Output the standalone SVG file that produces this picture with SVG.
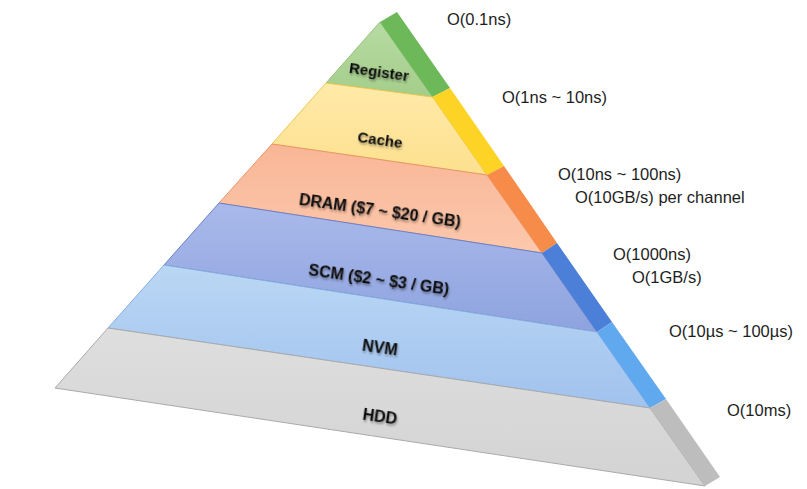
<svg xmlns="http://www.w3.org/2000/svg" width="807" height="489" viewBox="0 0 807 489">
  <defs>
    <linearGradient id="gReg" x1="0" y1="0" x2="0" y2="1"><stop offset="0" stop-color="#b7dba3"/><stop offset="1" stop-color="#a4cd8a"/></linearGradient>
    <linearGradient id="gCache" x1="0" y1="0" x2="0" y2="1"><stop offset="0" stop-color="#ffeaa8"/><stop offset="1" stop-color="#fde08f"/></linearGradient>
    <linearGradient id="gDram" x1="0" y1="0" x2="0" y2="1"><stop offset="0" stop-color="#f9b696"/><stop offset="1" stop-color="#fcc8ad"/></linearGradient>
    <linearGradient id="gScm" x1="0" y1="0" x2="0" y2="1"><stop offset="0" stop-color="#a9b9ea"/><stop offset="1" stop-color="#8ea3df"/></linearGradient>
    <linearGradient id="gNvm" x1="0" y1="0" x2="0" y2="1"><stop offset="0" stop-color="#bad7f4"/><stop offset="1" stop-color="#a1c2ee"/></linearGradient>
    <linearGradient id="gHdd" x1="0" y1="0" x2="0" y2="1"><stop offset="0" stop-color="#dedede"/><stop offset="1" stop-color="#d3d3d3"/></linearGradient>
    <filter id="shadow" x="-20%" y="-50%" width="140%" height="200%">
      <feDropShadow dx="1" dy="2" stdDeviation="1" flood-color="#000" flood-opacity="0.35"/>
    </filter>
  </defs>
  <style>
    .front { stroke-width: 1; stroke-linejoin: round; }
    .side { stroke: none; }
    .label { font-family: "Liberation Sans", Arial, sans-serif; font-weight: bold; fill: #111; text-anchor: middle; filter: url(#shadow); }
    .note { font-family: "Liberation Sans", Arial, sans-serif; font-size: 16.5px; fill: #1e1e1e; }
  </style>
  <rect width="807" height="489" fill="#ffffff"/>

  <g id="register">
    <polygon class="front" points="380,22 432.5,97 326,83" fill="url(#gReg)" stroke="#93c274"/>
    <polygon class="side" points="380,22 397,12 450,88 432.5,97" fill="#6db95a"/>
    <text class="label" x="379" y="72" dy="0.35em" font-size="15" transform="rotate(8 379 72)">Register</text>
  </g>
  <g id="cache">
    <polygon class="front" points="326,83 432.5,97 487,175 272,144" fill="url(#gCache)" stroke="#ecc651"/>
    <polygon class="side" points="432.5,97 450,88 504,166 487,175" fill="#fdd325"/>
    <text class="label" x="380" y="140" dy="0.35em" font-size="15" transform="rotate(8 380 140)">Cache</text>
  </g>
  <g id="dram">
    <polygon class="front" points="272,144 487,175 542,253 219,203" fill="url(#gDram)" stroke="#e8976a"/>
    <polygon class="side" points="487,175 504,166 557,243 542,253" fill="#f68b4a"/>
    <text class="label" x="380" y="210" dy="0.35em" font-size="16" transform="rotate(8 380 210)">DRAM ($7 ~ $20 / GB)</text>
  </g>
  <g id="scm">
    <polygon class="front" points="219,203 542,253 597,332 164,265" fill="url(#gScm)" stroke="#6a80c8"/>
    <polygon class="side" points="542,253 557,243 612,322 597,332" fill="#4c7fd7"/>
    <text class="label" x="379" y="279" dy="0.35em" font-size="16" transform="rotate(8 379 279)">SCM ($2 ~ $3 / GB)</text>
  </g>
  <g id="nvm">
    <polygon class="front" points="164,265 597,332 650,408 108,328" fill="url(#gNvm)" stroke="#86addf"/>
    <polygon class="side" points="597,332 612,322 666,399 650,408" fill="#60a9ee"/>
    <text class="label" x="380" y="347" dy="0.35em" font-size="16" transform="rotate(8 380 347)">NVM</text>
  </g>
  <g id="hdd">
    <polygon class="front" points="108,328 650,408 705,486 55,388" fill="url(#gHdd)" stroke="#a9a9a9"/>
    <polygon class="side" points="650,408 666,399 720,477 705,486" fill="#bdbdbd"/>
    <text class="label" x="380" y="416" dy="0.35em" font-size="16" transform="rotate(8 380 416)">HDD</text>
  </g>

  <g id="connectors"></g>

  <g id="latencies">
    <text class="note" x="447" y="25">O(0.1ns)</text>
    <text class="note" x="502" y="103">O(1ns ~ 10ns)</text>
    <text class="note" x="558" y="180">O(10ns ~ 100ns)</text>
    <text class="note" x="575" y="203">O(10GB/s) per channel</text>
    <text class="note" x="613" y="260">O(1000ns)</text>
    <text class="note" x="632" y="283">O(1GB/s)</text>
    <text class="note" x="669" y="337">O(10µs ~ 100µs)</text>
    <text class="note" x="727" y="416">O(10ms)</text>
  </g>
</svg>
